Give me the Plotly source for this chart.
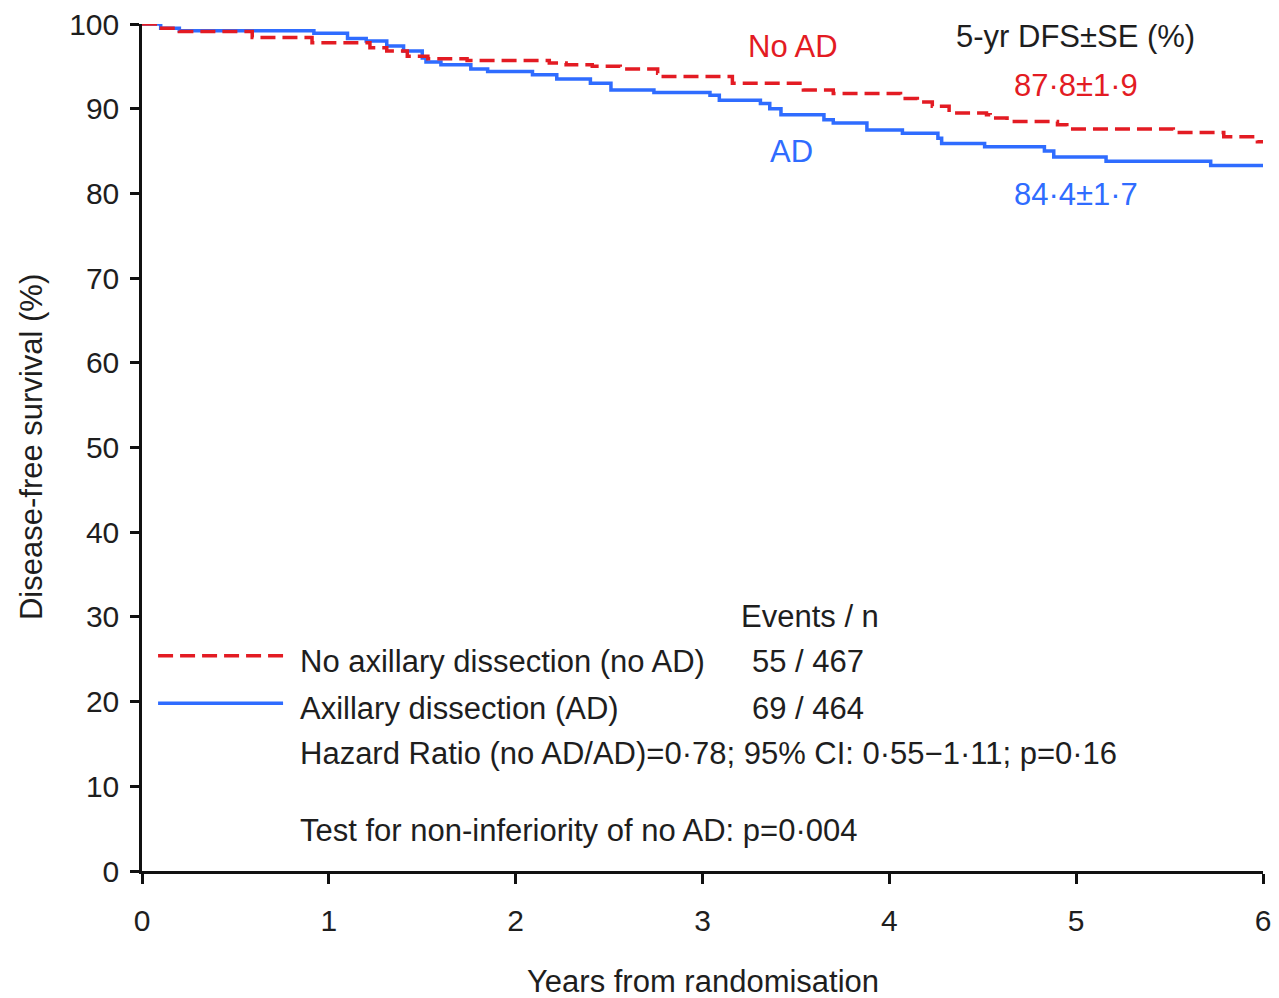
import plotly.graph_objects as go

# Kaplan-Meier step data
ad_time = [0, 0.10, 0.20, 0.92, 1.10, 1.20, 1.31, 1.40, 1.50, 1.52, 1.60, 1.76, 1.85, 2.09, 2.22,
           2.40, 2.51, 2.74, 3.04, 3.09, 3.31, 3.36, 3.42, 3.65, 3.70, 3.88, 4.07, 4.26, 4.28,
           4.51, 4.83, 4.88, 5.16, 5.72, 6.00]
ad_surv = [100, 99.5, 99.2, 98.9, 98.3, 98.0, 97.4, 96.8, 96.0, 95.5, 95.2, 94.7, 94.4, 94.0, 93.5,
           93.0, 92.2, 91.9, 91.6, 91.0, 90.6, 90.0, 89.3, 88.7, 88.3, 87.5, 87.1, 86.5, 85.9,
           85.5, 85.0, 84.3, 83.8, 83.3, 83.3]

noad_time = [0, 0.09, 0.20, 0.59, 0.91, 1.22, 1.31, 1.42, 1.53, 1.74, 2.18, 2.27, 2.41, 2.56, 2.76,
             2.79, 3.16, 3.54, 3.70, 4.06, 4.15, 4.23, 4.32, 4.52, 4.54, 4.63, 4.90, 4.95, 5.52,
             5.79, 5.97, 6.00]
noad_surv = [100, 99.5, 99.1, 98.4, 97.8, 97.2, 96.8, 96.2, 95.9, 95.7, 95.4, 95.2, 95.0, 94.7, 94.2,
             93.8, 93.0, 92.2, 91.8, 91.2, 90.8, 90.3, 89.5, 89.3, 88.9, 88.5, 88.1, 87.6, 87.2,
             86.7, 86.1, 86.1]

x_ticks = [0, 1, 2, 3, 4, 5, 6]
y_ticks = [0, 10, 20, 30, 40, 50, 60, 70, 80, 90, 100]

legend_x = [0.086, 0.755]
legend_y_noad = 25.4
legend_y_ad = 19.8

RED = "#e31b23"
BLUE = "#2f6cff"
TXT = "#1e1e1e"
FONT = "Liberation Sans, Arial, sans-serif"
FS = 31

fig = go.Figure()
fig.add_trace(go.Scatter(x=ad_time, y=ad_surv, mode="lines", line_shape="hv",
                         line=dict(color=BLUE, width=3.5), showlegend=False, hoverinfo="skip"))
fig.add_trace(go.Scatter(x=noad_time, y=noad_surv, mode="lines", line_shape="hv",
                         line=dict(color=RED, width=3.5, dash="15px,7px"), showlegend=False,
                         hoverinfo="skip"))
# legend sample lines
fig.add_trace(go.Scatter(x=legend_x, y=[legend_y_noad] * 2, mode="lines",
                         line=dict(color=RED, width=3.5, dash="15px,7px"), showlegend=False,
                         hoverinfo="skip"))
fig.add_trace(go.Scatter(x=legend_x, y=[legend_y_ad] * 2, mode="lines",
                         line=dict(color=BLUE, width=3.5), showlegend=False, hoverinfo="skip"))

def txt(x, y, s, color=TXT, xanchor="left", size=FS):
    fig.add_annotation(x=x, y=y, xref="x", yref="y", text=s, showarrow=False,
                       xanchor=xanchor, yanchor="middle",
                       font=dict(family=FONT, size=size, color=color))

txt(3.485, 97.3, "No AD", RED, "center")
txt(4.995, 98.5, "5-yr DFS±SE (%)", TXT, "center")
txt(5.0, 92.7, "87·8±1·9", RED, "center")
txt(3.474, 85.0, "AD", BLUE, "center")
txt(5.0, 79.9, "84·4±1·7", BLUE, "center")

txt(3.196, 30.0, "Events / n")
txt(0.835, 24.7, "No axillary dissection (no AD)")
txt(3.255, 24.7, "55 / 467")
txt(0.835, 19.2, "Axillary dissection (AD)")
txt(3.255, 19.2, "69 / 464")
txt(0.835, 13.9, "Hazard Ratio (no AD/AD)=0·78; 95% CI: 0·55−1·11; p=0·16")
txt(0.835, 4.8, "Test for non-inferiority of no AD: p=0·004")

fig.add_annotation(x=-0.0981, y=0.5006, xref="paper", yref="paper",
                   text="Disease-free survival (%)", textangle=-90, showarrow=False,
                   xanchor="center", yanchor="middle",
                   font=dict(family=FONT, size=FS, color=TXT))
fig.add_annotation(x=0.5004, y=-0.131, xref="paper", yref="paper",
                   text="Years from randomisation", showarrow=False,
                   xanchor="center", yanchor="middle",
                   font=dict(family=FONT, size=FS, color=TXT))

fig.update_xaxes(range=[0, 6], tickvals=x_ticks, ticktext=[str(v) for v in x_ticks],
                 showgrid=False, zeroline=False, showline=True, linecolor="#111",
                 linewidth=2.5, ticks="outside", ticklen=10, tickwidth=2.5, tickcolor="#111",
                 ticklabelstandoff=11, ticklabeloverflow="allow", automargin=False,
                 tickfont=dict(family=FONT, size=30, color=TXT))
fig.update_yaxes(range=[0, 100], tickvals=y_ticks, ticktext=[str(v) for v in y_ticks],
                 showgrid=False, zeroline=False, showline=True, linecolor="#111",
                 linewidth=2.5, ticks="outside", ticklen=9, tickwidth=2.5, tickcolor="#111",
                 ticklabelstandoff=5, ticklabeloverflow="allow", automargin=False,
                 tickfont=dict(family=FONT, size=30, color=TXT))

# page body has an 8px default margin, so the figure is 8px smaller and margins shifted
fig.update_layout(width=1271, height=990, margin=dict(l=134, r=16, t=16, b=127),
                  plot_bgcolor="white", paper_bgcolor="white")

fig.write_html("out.html")
